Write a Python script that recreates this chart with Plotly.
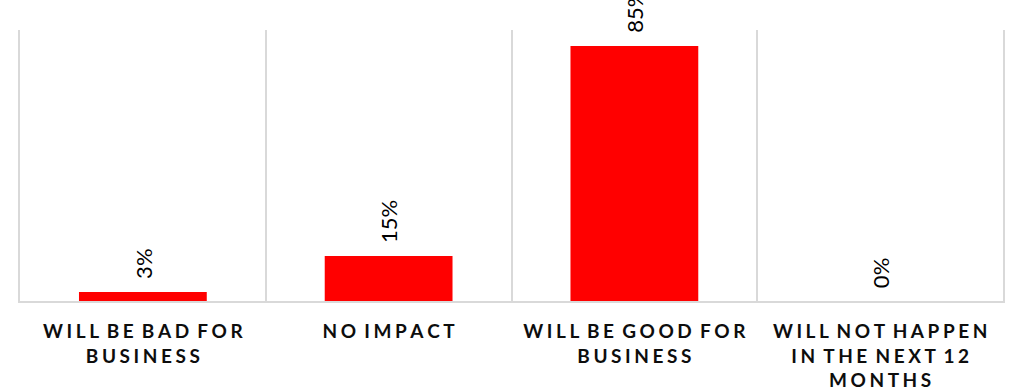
import plotly.graph_objects as go

# Survey responses (share of respondents, %)
categories = [
    "WILL BE BAD FOR<br>BUSINESS",
    "NO IMPACT",
    "WILL BE GOOD FOR<br>BUSINESS",
    "WILL NOT HAPPEN<br>IN THE NEXT 12<br>MONTHS",
]
values = [3, 15, 85, 0]
value_labels = ["3%", "15%", "85%", "0%"]

LETTER_GAP = "\u2009\u200a"
WORD_GAP = " \u2009\u200a"


def tracked(label):
    """Widen the letter spacing of an upper-case label."""
    lines = []
    for line in label.split("<br>"):
        words = [LETTER_GAP.join(w) for w in line.split(" ")]
        lines.append(WORD_GAP.join(words))
    return "<br>".join(lines)


display_cats = [tracked(c) for c in categories]

fig = go.Figure(
    go.Bar(
        x=display_cats,
        y=values,
        marker=dict(color="#FF0000", line=dict(width=0)),
        hoverinfo="x+y",
    )
)

# Rotated value labels above each bar
for cat, val, lab in zip(display_cats, values, value_labels):
    fig.add_annotation(
        x=cat,
        y=val,
        text=lab,
        textangle=-90,
        showarrow=False,
        xanchor="center",
        yanchor="bottom",
        yshift=11,
        font=dict(family="Lato", size=22, color="#000000"),
    )

fig.update_layout(
    width=1012,
    height=391,
    margin=dict(l=20, r=9, t=30, b=90, autoexpand=False),
    paper_bgcolor="white",
    plot_bgcolor="white",
    bargap=0.48,
    showlegend=False,
)

fig.update_xaxes(
    type="category",
    tickson="boundaries",
    showgrid=True,
    gridcolor="#d9d9d9",
    gridwidth=2,
    showline=True,
    linecolor="#d9d9d9",
    linewidth=2,
    ticks="",
    automargin=False,
    ticklabelstandoff=12,
    tickfont=dict(family="Lato", size=19, color="#0d0d0d", weight="bold"),
)

fig.update_yaxes(
    range=[0, 90.3],
    showticklabels=False,
    showgrid=False,
    zeroline=False,
    showline=True,
    mirror=True,
    linecolor="#d9d9d9",
    linewidth=2,
    automargin=False,
)

fig.write_html("out.html")
